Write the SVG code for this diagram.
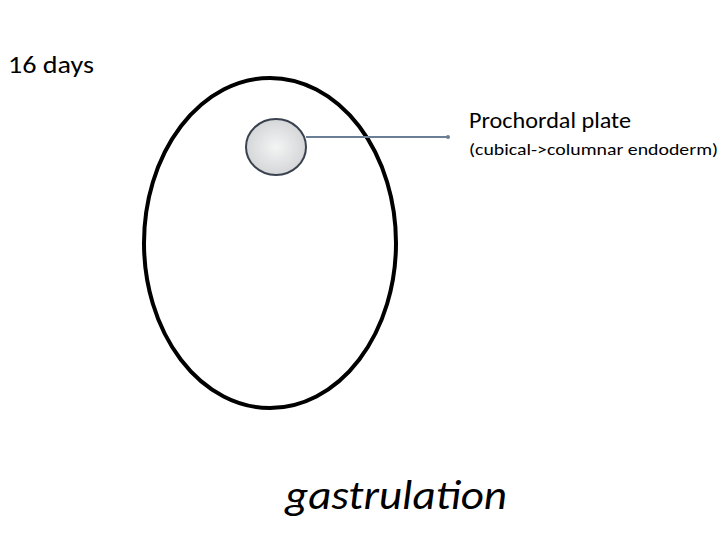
<svg xmlns="http://www.w3.org/2000/svg" width="720" height="540" viewBox="0 0 720 540">
<style>text{font-family:Carlito,Lato,"Liberation Sans",sans-serif;fill:#000}</style>
<defs><radialGradient id="g"><stop offset="0" stop-color="#f4f4f4"/><stop offset="1" stop-color="#d4d6d8"/></radialGradient></defs>
<rect width="720" height="540" fill="#fff"/>
<text x="8" y="73" font-size="24" textLength="86" lengthAdjust="spacingAndGlyphs">16 days</text>
<g id="embryo"><ellipse cx="270" cy="243" rx="126" ry="165" fill="none" stroke="#000" stroke-width="4"/></g>
<g id="plate"><ellipse cx="276" cy="147" rx="30" ry="28" fill="url(#g)" stroke="#3a4250" stroke-width="2"/></g>
<g id="connectors"><line x1="306" y1="137" x2="448" y2="137" stroke="#6a7e96" stroke-width="2"/><circle cx="448" cy="137" r="2" fill="#6a7e96"/></g>
<g id="label"><text x="469" y="128" font-size="22" textLength="162" lengthAdjust="spacingAndGlyphs">Prochordal plate</text>
<text x="469" y="155" font-size="17" textLength="249" lengthAdjust="spacingAndGlyphs">(cubical-&gt;columnar endoderm)</text></g>
<text x="285" y="509" font-size="42" font-style="italic" textLength="222" lengthAdjust="spacingAndGlyphs">gastrulation</text>
</svg>
